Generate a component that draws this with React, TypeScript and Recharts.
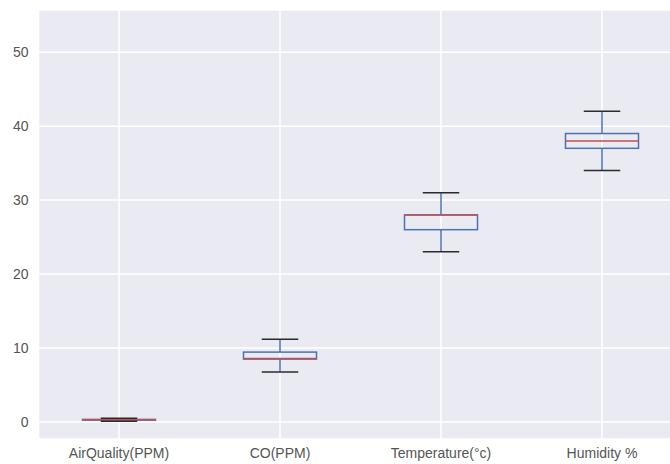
import { ComposedChart, Bar, XAxis, YAxis, CartesianGrid } from "recharts"

// box statistics
const categories = ["AirQuality(PPM)", "CO(PPM)", "Temperature(°c)", "Humidity %"]
const lows = [0.1, 6.75, 23, 34]
const q1s = [0.25, 8.5, 26, 37]
const medians = [0.3, 8.6, 28, 38]
const q3s = [0.35, 9.45, 28, 39]
const highs = [0.5, 11.2, 31, 42]
const yTicks = [0, 10, 20, 30, 40, 50]

const data = categories.map((name, i) => ({
  name,
  range: [lows[i], highs[i]],
  low: lows[i],
  q1: q1s[i],
  median: medians[i],
  q3: q3s[i],
  high: highs[i],
}))

const BOX = "#4C72B0"
const CAP = "#2b2b2b"
const MED = "#C44E52"

function BoxShape(props: any) {
  const { x, y, width, height, payload } = props
  const { low, high, q1, median, q3 } = payload
  // map a value into the pixel span that recharts gave for [low, high]
  const toY = (v: number) => (high === low ? y : y + (height * (high - v)) / (high - low))
  const cx = x + width / 2
  const capW = width / 2
  const yQ1 = toY(q1)
  const yQ3 = toY(q3)
  return (
    <g>
      <line x1={cx} x2={cx} y1={toY(high)} y2={yQ3} stroke={BOX} strokeWidth={1.5} />
      <line x1={cx} x2={cx} y1={yQ1} y2={toY(low)} stroke={BOX} strokeWidth={1.5} />
      <rect x={x} y={yQ3} width={width} height={Math.max(yQ1 - yQ3, 0.5)} fill="none" stroke={BOX} strokeWidth={1.5} />
      <line x1={x} x2={x + width} y1={toY(median)} y2={toY(median)} stroke={MED} strokeWidth={1.5} />
      <line x1={cx - capW / 2} x2={cx + capW / 2} y1={toY(high)} y2={toY(high)} stroke={CAP} strokeWidth={1.5} />
      <line x1={cx - capW / 2} x2={cx + capW / 2} y1={toY(low)} y2={toY(low)} stroke={CAP} strokeWidth={1.5} />
    </g>
  )
}

export default function App() {
  return (
    <div
      style={{
        position: "fixed",
        left: 0,
        top: 0,
        width: 670,
        height: 464,
        overflow: "hidden",
        background: "#fff",
        fontFamily: "'Liberation Sans', Arial, sans-serif",
      }}
    >
      <ComposedChart
        width={700}
        height={464}
        data={data}
        margin={{ top: 10, right: 17.5, left: 0, bottom: 0 }}
      >
        <CartesianGrid fill="#EAEAF2" stroke="#ffffff" strokeWidth={1.5} />
        <XAxis
          dataKey="name"
          axisLine={false}
          tickLine={false}
          tickSize={0}
          tickMargin={9}
          height={25}
          interval={0}
          tick={{ fill: "#555555", fontSize: 14 }}
        />
        <YAxis
          type="number"
          domain={[-2.3, 55.7]}
          ticks={yTicks}
          axisLine={false}
          tickLine={false}
          tickSize={0}
          tickMargin={10}
          width={38.5}
          tick={{ fill: "#555555", fontSize: 14 }}
        />
        <Bar dataKey="range" barSize={73} shape={BoxShape} isAnimationActive={false} />
      </ComposedChart>
    </div>
  )
}
